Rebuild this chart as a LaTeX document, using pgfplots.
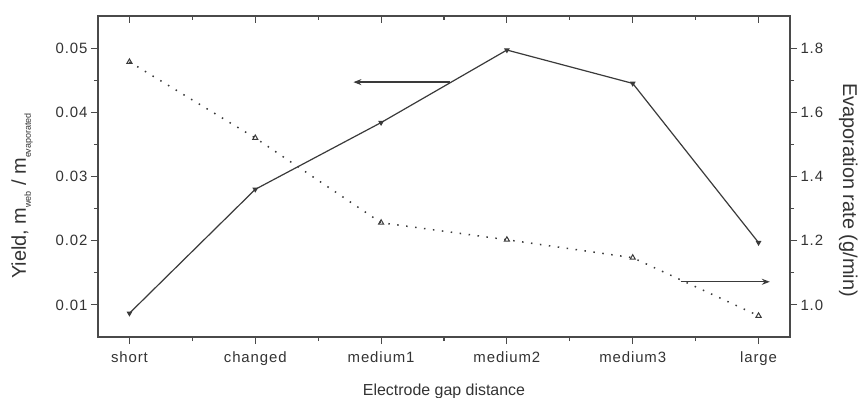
\documentclass[border=0pt]{standalone}
\usepackage{fontspec}
\setmainfont{Liberation Sans}
\newfontfamily\tickfont[LetterSpace=6]{Liberation Sans}
\usepackage{pgfplots}
\pgfplotsset{compat=1.18}
\usetikzlibrary{arrows.meta}
\definecolor{txt}{HTML}{333333}
\definecolor{axc}{HTML}{4A4A4A}
\definecolor{lnc}{HTML}{3A3A3A}
\pgfplotsset{
  common/.style={
    at={(0bp,0bp)}, anchor=south west,
    scale only axis, width=692bp, height=321bp,
    xmin=-0.25, xmax=5.25,
    xtick={0,1,2,3,4,5},
    minor x tick num=1,
    major tick length=7bp, minor tick length=4bp,
    axis line style={line width=1.4bp, color=axc},
    every tick/.style={line width=1.1bp, color=axc},
    tick label style={font=\tickfont\fontsize{15}{15}\selectfont, text=txt},
    /pgf/number format/assume math mode=true,
    scaled y ticks=false,
  }
}
\begin{document}
\begin{tikzpicture}
\path[use as bounding box] (-98bp,-61bp) rectangle (765bp,337bp);
% left axis: yield
\begin{axis}[common,
  ymin=0.005, ymax=0.055,
  ytick={0.01,0.02,0.03,0.04,0.05},
  minor y tick num=1,
  xticklabels={short,changed,medium1,medium2,medium3,large},
  xtick pos=bottom, ytick pos=left,
  tick align=outside,
  yticklabel style={/pgf/number format/fixed, /pgf/number format/fixed zerofill, /pgf/number format/precision=2},
  xticklabel style={anchor=base, yshift=-18bp},
]
\addplot[color=lnc, line width=1.2bp, mark=triangle*, mark size=2.2bp, mark options={rotate=180, solid}]
  coordinates {(0,0.0087) (1,0.0280) (2,0.0384) (3,0.0497) (4,0.0445) (5,0.0197)};
\draw[-{Stealth[length=8bp,width=6bp]}, line width=1.4bp, color=lnc] (axis cs:2.55,0.0447) -- (axis cs:1.78,0.0447);
\draw[-{Stealth[length=8bp,width=6bp]}, line width=1.4bp, color=lnc] (axis cs:4.38,0.0136) -- (axis cs:5.09,0.0136);
\end{axis}
% right axis: evaporation rate
\begin{axis}[common,
  ymin=0.9, ymax=1.9,
  axis x line=none, axis y line*=right,
  ytick={1.0,1.2,1.4,1.6,1.8},
  minor y tick num=1,
  tick align=outside,
  yticklabel style={/pgf/number format/fixed, /pgf/number format/fixed zerofill, /pgf/number format/precision=1},
]
\addplot[color=lnc, line width=1.5bp, dash pattern=on 1.5bp off 7.5bp, mark=triangle, mark size=3bp, mark options={solid, line width=1bp}]
  coordinates {(0,1.757) (1,1.52) (2,1.256) (3,1.203) (4,1.147) (5,0.966)};
\end{axis}
% top ticks (inward)
\begin{axis}[common,
  ymin=0, ymax=1,
  axis y line=none, axis x line*=top,
  xticklabels={},
  tick align=inside,
]
\end{axis}
\node[anchor=base, rotate=90, text=txt, font=\fontsize{20}{20}\selectfont] at (-72bp,141bp)
  {Yield, m\raisebox{-5bp}{\fontsize{9}{9}\selectfont web} / m\raisebox{-5bp}{\fontsize{9}{9}\selectfont evaporated}};
\node[anchor=base, rotate=-90, text=txt, font=\fontsize{20}{20}\selectfont] at (745bp,147bp)
  {Evaporation rate (g/min)};
\node[anchor=base, text=txt, font=\fontsize{16}{16}\selectfont] at (346bp,-58bp)
  {Electrode gap distance};
\end{tikzpicture}
\end{document}
